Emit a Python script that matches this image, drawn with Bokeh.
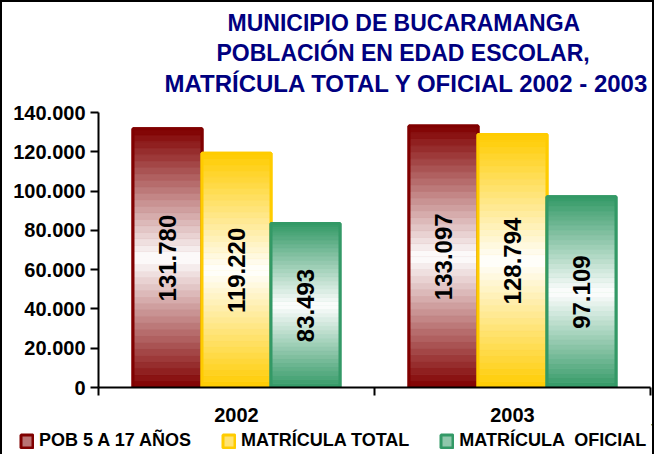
import numpy as np
from bokeh.plotting import figure
from bokeh.layouts import column
from bokeh.models import Range1d, FixedTicker, Title, Legend, LegendItem
from bokeh.core.properties import value
from bokeh.embed import file_html
from bokeh.resources import INLINE

# ---------------- data ----------------
years = ["2002", "2003"]
series_names = ["POB 5 A 17 AÑOS", "MATRÍCULA TOTAL", "MATRÍCULA  OFICIAL"]
pob_5_17 = [131780, 133097]
matricula_total = [119220, 128794]
matricula_oficial = [83493, 97109]
y_ticks = [0, 20000, 40000, 60000, 80000, 100000, 120000, 140000]
y_tick_labels = ["0", "20.000", "40.000", "60.000", "80.000", "100.000", "120.000", "140.000"]
title_lines = ["MUNICIPIO DE BUCARAMANGA",
               "POBLACIÓN EN EDAD ESCOLAR,",
               "MATRÍCULA TOTAL Y OFICIAL 2002 - 2003"]

series_values = [pob_5_17, matricula_total, matricula_oficial]
base_colors = [(128, 0, 0), (255, 204, 0), (51, 153, 102)]
offsets = [-0.25, 0.0, 0.25]
bar_w = 0.25
FONT = value("Liberation Sans")


def hexc(rgb):
    return "#%02x%02x%02x" % tuple(int(round(c)) for c in rgb)


def mix(rgb, w):
    return tuple(c * (1 - w) + 255 * w for c in rgb)


W = 650
p = figure(width=W, height=422, output_backend="svg", toolbar_location=None,
           x_range=Range1d(0, len(years)), y_range=Range1d(0, y_ticks[-1]),
           title=None, min_border_left=96, min_border_right=2,
           min_border_top=110, min_border_bottom=36)
p.frame_align = False
p.outline_line_color = None
p.xgrid.visible = False
p.ygrid.visible = False
p.background_fill_color = "white"
p.border_fill_color = "white"

centers = [i + 0.5 for i in range(len(years))]
N = 40
for vals, col, off in zip(series_values, base_colors, offsets):
    xs = [c + off for c in centers]
    p.vbar(x=xs, top=vals, width=bar_w, fill_color=hexc(mix(col, 0.45)),
           line_color=hexc(col), line_width=3)
    sx, sb, st, sc = [], [], [], []
    for x, v in zip(xs, vals):
        for k in range(N):
            t = (k + 0.5) / N
            w = 1 - abs(2 * t - 1)
            sx.append(x)
            sb.append(v * k / N)
            st.append(v * (k + 1) / N)
            sc.append(hexc(mix(col, w)))
    p.vbar(x=sx, bottom=sb, top=st, width=bar_w, fill_color=sc, line_color=sc, line_width=0.5)
    p.vbar(x=xs, top=vals, width=bar_w, fill_alpha=0, line_color=hexc(col), line_width=3)
    labels = [f"{v:,}".replace(",", ".") for v in vals]
    p.text(x=xs, y=[v / 2 for v in vals], text=labels, angle=np.pi / 2,
           text_align="center", text_baseline="middle", text_font=FONT,
           text_font_style="bold", text_font_size="24px", text_color="black")

# axes
p.yaxis.ticker = FixedTicker(ticks=y_ticks)
p.yaxis.major_label_overrides = {t: l for t, l in zip(y_ticks, y_tick_labels)}
p.yaxis.major_tick_out = 8
p.yaxis.major_tick_in = 0
p.yaxis.minor_tick_out = 0
p.yaxis.minor_tick_in = 0
p.yaxis.axis_line_width = 2
p.yaxis.major_tick_line_width = 2
p.yaxis.major_label_standoff = 5
p.yaxis.major_label_text_font = "Liberation Sans"
p.yaxis.major_label_text_font_style = "bold"
p.yaxis.major_label_text_font_size = "20px"
p.yaxis.major_label_text_color = "black"

p.xaxis.ticker = FixedTicker(ticks=centers, minor_ticks=list(range(len(years) + 1)))
p.xaxis.major_label_overrides = {c: y for c, y in zip(centers, years)}
p.xaxis.major_tick_out = 0
p.xaxis.major_tick_in = 0
p.xaxis.minor_tick_out = 8
p.xaxis.minor_tick_in = 0
p.xaxis.minor_tick_line_width = 2
p.xaxis.axis_line_width = 2
p.xaxis.major_label_standoff = 12
p.xaxis.major_label_text_font = "Liberation Sans"
p.xaxis.major_label_text_font_style = "bold"
p.xaxis.major_label_text_font_size = "20px"
p.xaxis.major_label_text_color = "black"

# titles: spacer closest to the frame, then lines from bottom to top
p.add_layout(Title(text=" ", text_font_size="8px", standoff=4), "above")
title_offsets = [129, 118, 66]
title_sizes = ["23px", "23px", "24px"]
for line, off, fs in reversed(list(zip(title_lines, title_offsets, title_sizes))):
    p.add_layout(Title(text=line, align="left", offset=off, text_font_size=fs,
                       text_font="Liberation Sans", text_font_style="bold",
                       text_color="#000080", standoff=2), "above")

# legend strip below the chart
q = figure(width=W, height=30, output_backend="svg", toolbar_location=None,
           x_range=Range1d(0, 1), y_range=Range1d(0, 1), title=None,
           x_axis_type=None, y_axis_type=None,
           min_border_left=0, min_border_right=0, min_border_top=0, min_border_bottom=0)
q.frame_align = False
q.outline_line_color = None
q.xgrid.visible = False
q.ygrid.visible = False
q.background_fill_color = "white"
q.border_fill_color = "white"
legend_items = []
for name, col in zip(series_names, base_colors):
    # legend proxy glyph, kept far outside the visible range
    r = q.vbar(x=[50], bottom=[50], top=[51], width=0.1, fill_color=hexc(mix(col, 0.45)),
               line_color=hexc(col), line_width=3)
    legend_items.append(LegendItem(label=name, renderers=[r]))
legend = Legend(items=legend_items, orientation="horizontal", location=(17, 3),
                glyph_width=15, glyph_height=16, label_height=16, label_standoff=5,
                spacing=30, padding=0, margin=0, border_line_color=None,
                background_fill_alpha=0,
                label_text_font="Liberation Sans", label_text_font_style="bold",
                label_text_font_size="18px", label_text_color="black")
q.add_layout(legend, "center")

layout = column(p, q, spacing=0)
layout.styles = {"border-top": "2px solid black", "border-left": "2px solid black",
                 "border-right": "2px solid black"}

open("out.html", "w").write(file_html(layout, INLINE))
